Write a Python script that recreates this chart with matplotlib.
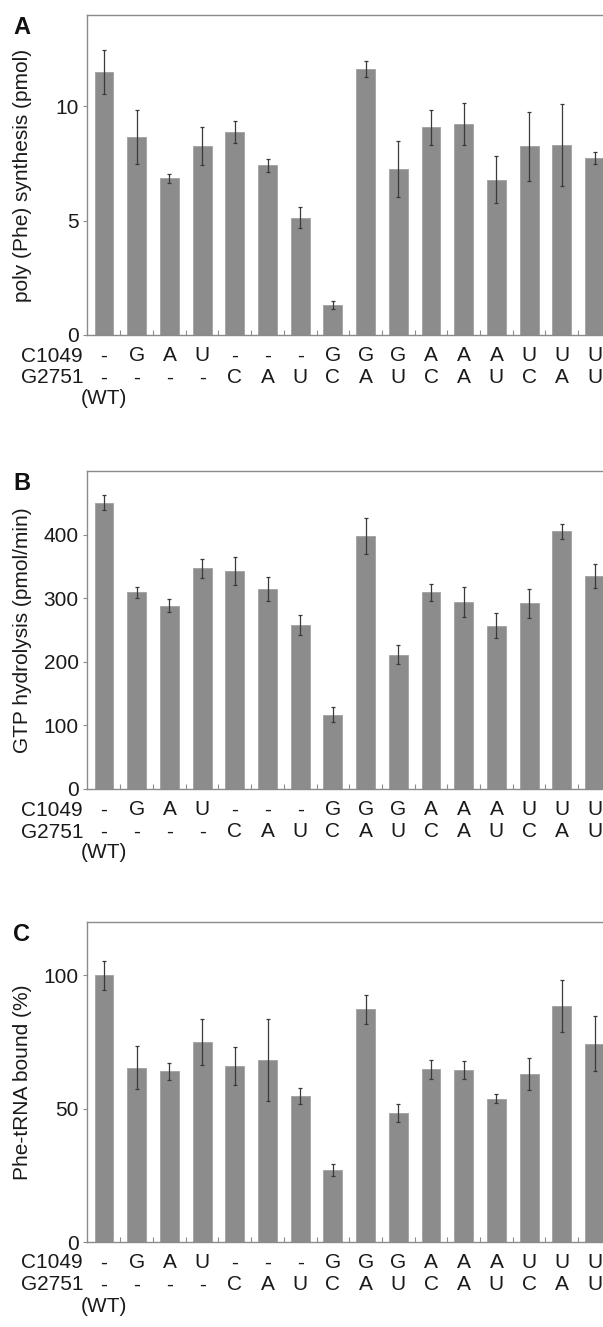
import matplotlib
matplotlib.use("Agg")
import matplotlib.pyplot as plt
import numpy as np

# mutation labels under each bar
c1049 = ["-", "G", "A", "U", "-", "-", "-", "G", "G", "G", "A", "A", "A", "U", "U", "U"]
g2751 = ["-", "-", "-", "-", "C", "A", "U", "C", "A", "U", "C", "A", "U", "C", "A", "U"]

# A: poly(Phe) synthesis (pmol)
polyphe = [11.5, 8.66, 6.86, 8.25, 8.88, 7.42, 5.14, 1.31,
           11.64, 7.26, 9.08, 9.24, 6.80, 8.25, 8.31, 7.74]
polyphe_err = [0.95, 1.18, 0.2, 0.83, 0.49, 0.3, 0.45, 0.19,
               0.34, 1.24, 0.77, 0.93, 1.02, 1.5, 1.78, 0.26]

# B: GTP hydrolysis (pmol/min)
gtp = [450, 309, 288, 347, 343, 315, 258, 117,
       398, 211, 309, 294, 257, 292, 405, 335]
gtp_err = [12, 8, 10, 15, 22, 19, 16, 12,
           28, 15, 14, 24, 20, 23, 12, 19]

# C: Phe-tRNA bound (%)
bound = [100, 65.4, 64.1, 75, 66, 68.3, 54.6, 27.1,
         87.3, 48.4, 64.8, 64.4, 53.8, 63.1, 88.4, 74.3]
bound_err = [5.5, 8, 3.2, 8.5, 7, 15.4, 3, 2.2,
             5.5, 3.3, 3.6, 3.3, 1.6, 6, 9.8, 10.3]

panels = [
    ("A", polyphe, polyphe_err, "poly (Phe) synthesis (pmol)", 14, [0, 5, 10]),
    ("B", gtp, gtp_err, "GTP hydrolysis (pmol/min)", 500, [0, 100, 200, 300, 400]),
    ("C", bound, bound_err, "Phe-tRNA bound (%)", 120, [0, 50, 100]),
]

plt.rcParams['font.family'] = ['Liberation Sans', 'DejaVu Sans']
W, H = 603, 1327
fig = plt.figure(figsize=(W / 100, H / 100), dpi=100)

# axes boxes in pixels: (top, bottom)
boxes = [(15, 335), (471, 789), (922, 1242)]
left_px = 87
xmin, xmax = -0.52, 16.0
width_px = (xmax - xmin) * 32.7

gray = '#8c8c8c'
spine = '#8a8a8a'
txt = '#1a1a1a'
fs = 15
x = np.arange(len(c1049))

for (letter, vals, errs, ylabel, ymax, yticks), (top, bot) in zip(panels, boxes):
    ax = fig.add_axes([left_px / W, 1 - bot / H, width_px / W, (bot - top) / H])
    ax.bar(x, vals, width=0.58, color=gray, edgecolor='#a0a0a0', linewidth=0.6, zorder=2)
    ax.errorbar(x, vals, yerr=errs, fmt='none', ecolor='#3a3a3a', elinewidth=0.9,
                capsize=1.6, capthick=0.9, zorder=3)
    ax.set_xlim(xmin, xmax)
    ax.set_ylim(0, ymax)
    ax.set_yticks(yticks)
    ax.set_xticks(x[:-1] + 0.5)
    ax.set_xticklabels([])
    ax.tick_params(axis='x', direction='in', length=3.5, color=spine, width=0.8)
    ax.tick_params(axis='y', direction='out', length=3, color=spine, width=0.8,
                   labelsize=fs, pad=3, labelcolor=txt)
    for s in ax.spines.values():
        s.set_color(spine)
        s.set_linewidth(1.0)
    ax.set_ylabel(ylabel, fontsize=15, color=txt)
    ax.yaxis.set_label_coords(-0.102, 0.5)

    tr = ax.get_xaxis_transform()
    h = bot - top
    for i in x:
        ax.text(i, -21 / h, c1049[i], transform=tr, ha='center', va='center',
                fontsize=fs, color=txt, clip_on=False)
        ax.text(i, -43 / h, g2751[i], transform=tr, ha='center', va='center',
                fontsize=fs, color=txt, clip_on=False)
    ax.text(0, -64 / h, "(WT)", transform=tr, ha='center', va='center',
            fontsize=fs, color=txt, clip_on=False)

    # row names to the left of the axis
    fig.text(83 / W, 1 - (bot + 21) / H, "C1049", ha='right', va='center',
             fontsize=fs, color=txt)
    fig.text(83 / W, 1 - (bot + 43) / H, "G2751", ha='right', va='center',
             fontsize=fs, color=txt)

    fig.text(13 / W, 1 - (top + 1) / H, letter, ha='left', va='top',
             fontsize=17, fontweight='bold', color='#111111')

fig.savefig("out.png", dpi=100, facecolor='white')
